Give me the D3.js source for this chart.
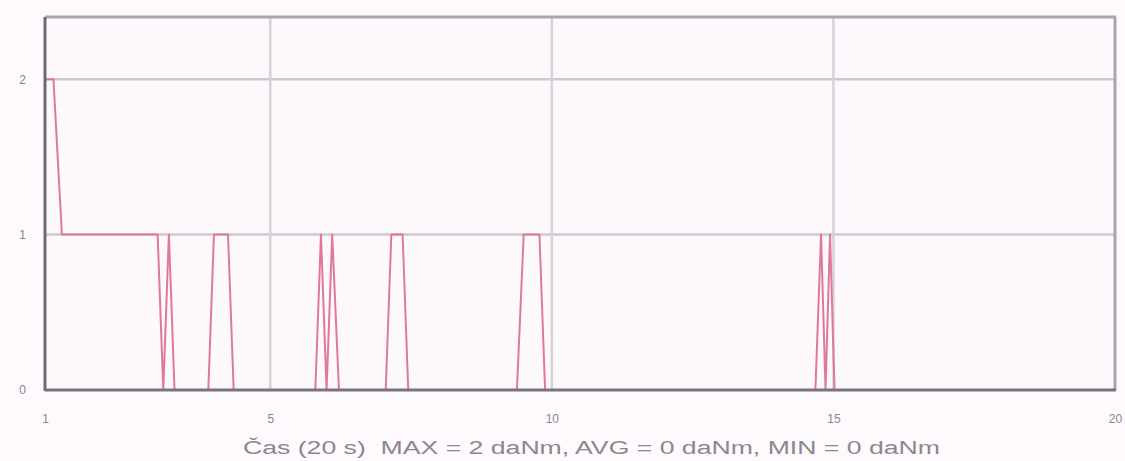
<!DOCTYPE html>
<html>
<head>
<meta charset="utf-8">
<script src="https://cdn.jsdelivr.net/npm/d3@7"></script>
<style>
  html, body { margin: 0; padding: 0; background: #fdf9fc; }
  svg { display: block; }
  text { font-family: "Liberation Sans", Arial, sans-serif; fill: #8a8790; }
</style>
</head>
<body>
<svg id="chart" width="1125" height="461"></svg>
<script>
// Torque trace (daNm) over time (s)
const times = [1.0, 1.15, 1.3, 3.0, 3.1, 3.2, 3.3, 3.9, 4.0, 4.25, 4.35,
               5.8, 5.9, 6.0, 6.1, 6.22, 7.05, 7.15, 7.35, 7.45,
               9.38, 9.5, 9.78, 9.88, 14.68, 14.78, 14.86, 14.94, 15.02, 20.0];
const values = [2, 2, 1, 1, 0, 1, 0, 0, 1, 1, 0,
                0, 1, 0, 1, 0, 0, 1, 1, 0,
                0, 1, 1, 0, 0, 1, 0, 1, 0, 0];
const xTicks = [1, 5, 10, 15, 20];
const yTicks = [0, 1, 2];
const caption = "Čas (20 s)  MAX = 2 daNm, AVG = 0 daNm, MIN = 0 daNm";

const svg = d3.select("#chart");
const plotL = 45, plotR = 1115, plotT = 17, plotB = 390;

const x = d3.scaleLinear().domain([1, 20]).range([plotL, plotR]);
const y = d3.scaleLinear().domain([0, 2.4]).range([plotB, plotT]);

// plot background
svg.append("rect").attr("x", plotL).attr("y", plotT)
  .attr("width", plotR - plotL).attr("height", plotB - plotT)
  .attr("fill", "#fdf8fc");

// grid lines
svg.append("g").selectAll("line").data(yTicks.filter(d => d > 0)).join("line")
  .attr("x1", plotL).attr("x2", plotR)
  .attr("y1", d => y(d)).attr("y2", d => y(d))
  .attr("stroke", "#cdc9cf").attr("stroke-width", 2.5);
svg.append("g").selectAll("line").data(xTicks.filter(d => d > 1 && d < 20)).join("line")
  .attr("x1", d => x(d)).attr("x2", d => x(d))
  .attr("y1", plotT).attr("y2", plotB)
  .attr("stroke", "#d6d2d8").attr("stroke-width", 2.5);

// data line
const pts = times.map((t, i) => [t, values[i]]);
svg.append("path").datum(pts)
  .attr("fill", "none")
  .attr("stroke", "#e0789c")
  .attr("stroke-width", 2)
  .attr("stroke-linejoin", "round")
  .attr("d", d3.line().x(d => x(d[0])).y(d => y(d[1])));

// frame: top and right lighter, left and bottom darker
svg.append("line").attr("x1", plotL).attr("x2", plotR + 1).attr("y1", plotT).attr("y2", plotT)
  .attr("stroke", "#a9a5ac").attr("stroke-width", 3);
svg.append("line").attr("x1", plotR).attr("x2", plotR).attr("y1", plotT).attr("y2", plotB)
  .attr("stroke", "#a9a5ac").attr("stroke-width", 3);
svg.append("line").attr("x1", plotL).attr("x2", plotL).attr("y1", plotT).attr("y2", plotB + 1)
  .attr("stroke", "#6f6b73").attr("stroke-width", 3);
svg.append("line").attr("x1", plotL).attr("x2", plotR + 1).attr("y1", plotB).attr("y2", plotB)
  .attr("stroke", "#78747b").attr("stroke-width", 3);

// tick labels via d3 axes
const yAxis = d3.axisLeft(y).tickValues(yTicks).tickFormat(d3.format("d")).tickSize(0).tickPadding(19);
svg.append("g").attr("transform", `translate(${plotL},0)`).call(yAxis)
  .call(g => g.select(".domain").remove())
  .selectAll("text").style("font-size", "12px").attr("fill", "#85828b");

const xAxis = d3.axisBottom(x).tickValues(xTicks).tickFormat(d3.format("d")).tickSize(0).tickPadding(24);
svg.append("g").attr("transform", `translate(0,${plotB})`).call(xAxis)
  .call(g => g.select(".domain").remove())
  .selectAll("text").style("font-size", "12px").attr("fill", "#85828b");

// axis caption: title followed by summary statistics
svg.append("text")
  .attr("x", 243).attr("y", 454)
  .attr("textLength", 697).attr("lengthAdjust", "spacingAndGlyphs")
  .style("font-size", "18px").style("white-space", "pre").attr("fill", "#8f8c94")
  .text(caption);
</script>
</body>
</html>
